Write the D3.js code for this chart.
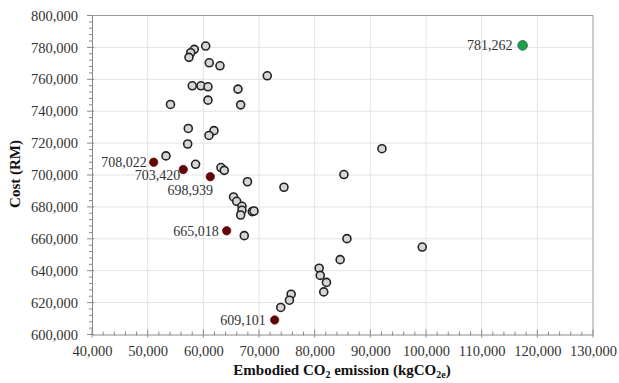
<!DOCTYPE html>
<html>
<head>
<meta charset="utf-8">
<script src="https://cdn.jsdelivr.net/npm/d3@7"></script>
<style>
  html, body { margin: 0; padding: 0; background: #fff; }
  svg text { font-family: "Liberation Serif", "Times New Roman", serif; }
</style>
</head>
<body>
<svg id="chart" width="619" height="383"></svg>
<script>
// Data (embodied CO2 kgCO2e, cost RM)
const otherEmission = [60421,58373,57727,57421,61067,62989,71484,58014,59576,60834,66222,60834,54099,66707,57296,61911,61013,57188,53290,58607,63168,63761,67928,74484,65431,65988,66940,66940,66707,68790,69096,67353,92084,85259,85798,99322,84578,80806,81004,82117,81632,75777,75472,73909];
const otherCost     = [780849,778777,776642,773753,770363,768479,762200,755921,755921,755294,753849,746942,744242,743991,729173,727792,724778,719442,711968,706694,704685,702927,695769,692315,686224,683525,680385,677874,674923,677058,677435,661988,716489,700290,660104,654829,646918,641581,637060,632665,626700,625255,621488,616967];

const paretoEmission = [51082,56397,61247,64192,72813];
const paretoCost     = [708022,703420,698939,665018,609101];

const highEmission = [117352];
const highCost     = [781262];

const xTickValues = [40000,50000,60000,70000,80000,90000,100000,110000,120000,130000];
const yTickValues = [600000,620000,640000,660000,680000,700000,720000,740000,760000,780000,800000];

// Layout
const pL = 92, pR = 593, pT = 15.5, pB = 334.5;
const svg = d3.select("#chart");
const fmt = d3.format(",");

const x = d3.scaleLinear().domain([40000,130000]).range([pL,pR]);
const y = d3.scaleLinear().domain([600000,800000]).range([pB,pT]);

// Grid
const grid = svg.append("g");
grid.selectAll("line.vx").data(xTickValues.slice(1,-1)).join("line")
  .attr("x1", d=>x(d)).attr("x2", d=>x(d)).attr("y1", pT).attr("y2", pB)
  .attr("stroke", "#e3e3e3").attr("stroke-width", 1);
grid.selectAll("line.hy").data(yTickValues.slice(1,-1)).join("line")
  .attr("x1", pL).attr("x2", pR).attr("y1", d=>y(d)).attr("y2", d=>y(d))
  .attr("stroke", "#e3e3e3").attr("stroke-width", 1);

// Frame (top and right)
svg.append("line").attr("x1",pL).attr("x2",pR).attr("y1",pT).attr("y2",pT).attr("stroke","#9a9a9a");
svg.append("line").attr("x1",pR).attr("x2",pR).attr("y1",pT).attr("y2",pB).attr("stroke","#9a9a9a");

// Minor ticks
const xMinor = d3.range(40000,130001,2000);
svg.append("g").selectAll("line").data(xMinor).join("line")
  .attr("x1", d=>x(d)).attr("x2", d=>x(d))
  .attr("y1", d => pB - (d % 10000 === 0 ? 5 : 3)).attr("y2", d => pB + (d % 10000 === 0 ? 3 : 1))
  .attr("stroke","#8a8a8a");
const yMinor = d3.range(600000,800001,4000);
svg.append("g").selectAll("line").data(yMinor).join("line")
  .attr("y1", d=>y(d)).attr("y2", d=>y(d))
  .attr("x1", d => pL - (d % 20000 === 0 ? 5 : 3)).attr("x2", d => pL + (d % 20000 === 0 ? 2 : 1))
  .attr("stroke","#8a8a8a");

// Axes
const xAxis = svg.append("g").attr("transform", `translate(0,${pB})`)
  .call(d3.axisBottom(x).tickValues(xTickValues).tickFormat(fmt).tickSize(0).tickPadding(11));
const yAxis = svg.append("g").attr("transform", `translate(${pL},0)`)
  .call(d3.axisLeft(y).tickValues(yTickValues).tickFormat(fmt).tickSize(0).tickPadding(14));
[xAxis, yAxis].forEach(a => {
  a.select(".domain").attr("stroke","#8a8a8a");
  a.selectAll("text").attr("font-family","Liberation Serif, serif").attr("font-size","14.5px").attr("fill","#333");
});

// Axis titles
const xt = svg.append("text").attr("x", 342).attr("y", 375).attr("text-anchor","middle")
  .attr("font-weight","bold").attr("font-size","15px").attr("fill","#111");
xt.append("tspan").text("Embodied CO");
xt.append("tspan").attr("dy", 3).attr("font-size","10px").text("2");
xt.append("tspan").attr("dy", -3).text(" emission (kgCO");
xt.append("tspan").attr("dy", 3).attr("font-size","10px").text("2e");
xt.append("tspan").attr("dy", -3).text(")");

svg.append("text").attr("transform","translate(20,174) rotate(-90)").attr("text-anchor","middle")
  .attr("font-weight","bold").attr("font-size","15px").attr("fill","#111").text("Cost (RM)");

// Points
const others = otherEmission.map((e,i)=>({e, c: otherCost[i]}));
svg.append("g").selectAll("circle").data(others).join("circle")
  .attr("cx", d=>x(d.e)).attr("cy", d=>y(d.c)).attr("r", 4)
  .attr("fill","#d6d6d6").attr("stroke","#222").attr("stroke-width",1.6);

const pareto = paretoEmission.map((e,i)=>({e, c: paretoCost[i]}));
svg.append("g").selectAll("circle").data(pareto).join("circle")
  .attr("cx", d=>x(d.e)).attr("cy", d=>y(d.c)).attr("r", 4.2)
  .attr("fill","#5e0707").attr("stroke","#7a1010").attr("stroke-width",0.8);

const high = highEmission.map((e,i)=>({e, c: highCost[i]}));
svg.append("g").selectAll("circle").data(high).join("circle")
  .attr("cx", d=>x(d.e)).attr("cy", d=>y(d.c)).attr("r", 4.8)
  .attr("fill","#20a04c").attr("stroke","#155f2e").attr("stroke-width",0.8);

// Labels (offsets relative to each point)
const labelOffsets = [[-7,5,"end"],[-3,10,"end"],[-20,18,"middle"],[-8,5,"end"],[-9,5,"end"]];
svg.append("g").selectAll("text").data(pareto).join("text")
  .attr("x", (d,i)=>x(d.e)+labelOffsets[i][0]).attr("y", (d,i)=>y(d.c)+labelOffsets[i][1])
  .attr("text-anchor", (d,i)=>labelOffsets[i][2])
  .attr("font-size","14px").attr("fill","#333").text(d=>fmt(d.c));
svg.append("g").selectAll("text").data(high).join("text")
  .attr("x", d=>x(d.e)-10).attr("y", d=>y(d.c)+5).attr("text-anchor","end")
  .attr("font-size","14px").attr("fill","#333").text(d=>fmt(d.c));
</script>
</body>
</html>
